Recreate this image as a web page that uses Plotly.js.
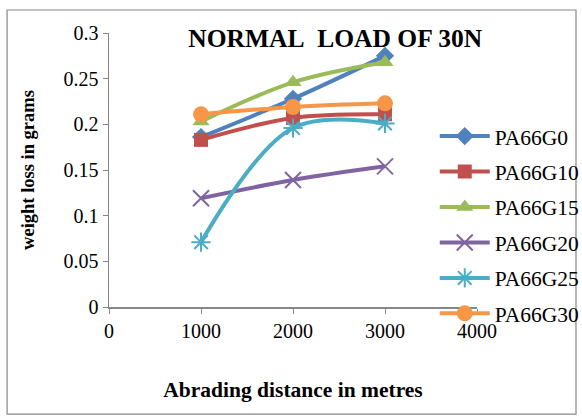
<!DOCTYPE html>
<html>
<head>
<meta charset="utf-8">
<script src="https://cdn.plot.ly/plotly-3.0.1.min.js"></script>
<style>
  html, body { margin: 0; padding: 0; background: #fff; }
  #chart { width: 582px; height: 419px; }
</style>
</head>
<body>
<div id="chart"></div>
<script>
// Abrading distance (m) and weight loss (g) for each composite
const distance = [1000, 2000, 3000];
const seriesNames = ['PA66G0', 'PA66G10', 'PA66G15', 'PA66G20', 'PA66G25', 'PA66G30'];
const pa66g0  = [0.186, 0.228, 0.275];
const pa66g10 = [0.183, 0.207, 0.211];
const pa66g15 = [0.203, 0.246, 0.268];
const pa66g20 = [0.119, 0.139, 0.154];
const pa66g25 = [0.071, 0.196, 0.201];
const pa66g30 = [0.211, 0.219, 0.223];
const xTicks = [0, 1000, 2000, 3000, 4000];
const yTicks = [0, 0.05, 0.1, 0.15, 0.2, 0.25, 0.3];
const yTickText = ['0', '0.05', '0.1', '0.15', '0.2', '0.25', '0.3'];

const values = [pa66g0, pa66g10, pa66g15, pa66g20, pa66g25, pa66g30];
const colors = ['#4F81BD', '#C0504D', '#9BBB59', '#8064A2', '#4BACC6', '#F79646'];
const symbols = ['diamond', 'square', 'triangle-up', 'x-thin-open', 'asterisk-open', 'circle'];
const sizes = [14, 14, 15, 16, 16, 16];

const serif = "'Liberation Serif', serif";

const traces = values.map((y, i) => ({
  type: 'scatter',
  mode: 'lines+markers',
  name: seriesNames[i],
  legendgroup: seriesNames[i],
  x: distance,
  y: y,
  line: { color: colors[i], width: 4, shape: 'spline', smoothing: 1 },
  marker: {
    symbol: symbols[i],
    size: sizes[i],
    color: colors[i],
    line: { color: colors[i], width: (i === 3 || i === 4) ? 2 : 0 }
  }
}));

const layout = {
  width: 582,
  height: 419,
  margin: { l: 109, r: 105, t: 33, b: 112, autoexpand: false },
  paper_bgcolor: '#ffffff',
  plot_bgcolor: '#ffffff',
  font: { family: serif, color: '#000', size: 20 },
  showlegend: true,
  title: {
    text: '<b>NORMAL\u00a0 LOAD OF 30N</b>',
    font: { family: serif, size: 25.5, color: '#000' },
    x: 0.576, xanchor: 'center',
    y: 0.908, yanchor: 'middle'
  },
  xaxis: {
    range: [0, 4000],
    tickvals: xTicks,
    ticktext: xTicks.map(String),
    showgrid: false,
    zeroline: false,
    showline: true,
    linecolor: '#868686',
    linewidth: 1.5,
    ticks: 'outside',
    ticklen: 5,
    tickcolor: '#868686',
    tickfont: { family: serif, size: 20, color: '#000' },
    title: {
      text: '<b>Abrading distance in metres</b>',
      font: { family: serif, size: 21.5, color: '#000' },
      standoff: 41
    }
  },
  yaxis: {
    range: [0, 0.3],
    tickvals: yTicks,
    ticktext: yTickText,
    showgrid: false,
    zeroline: false,
    showline: true,
    linecolor: '#868686',
    linewidth: 1.5,
    ticks: 'outside',
    ticklen: 5,
    tickcolor: '#868686',
    tickfont: { family: serif, size: 20, color: '#000' },
    title: {
      text: '<b>weight loss in grams</b>',
      font: { family: serif, size: 18.5, color: '#000' },
      standoff: 24
    }
  },
  legend: {
    xref: 'container', yref: 'container',
    x: 0.747, xanchor: 'left',
    y: 0.724, yanchor: 'top',
    maxheight: 400,
    bgcolor: 'rgba(0,0,0,0)',
    font: { family: serif, size: 21.5, color: '#000' },
    traceorder: 'grouped',
    tracegroupgap: 4.5,
    itemwidth: 50
  },
  shapes: [{
    type: 'rect', xref: 'paper', yref: 'paper',
    x0: -0.277, x1: 1.269, y0: -0.391, y1: 1.084,
    line: { color: '#868686', width: 1.2 },
    fillcolor: 'rgba(0,0,0,0)',
    layer: 'below'
  }]
};

Plotly.newPlot('chart', traces, layout, { displayModeBar: false, staticPlot: true });
</script>
</body>
</html>
